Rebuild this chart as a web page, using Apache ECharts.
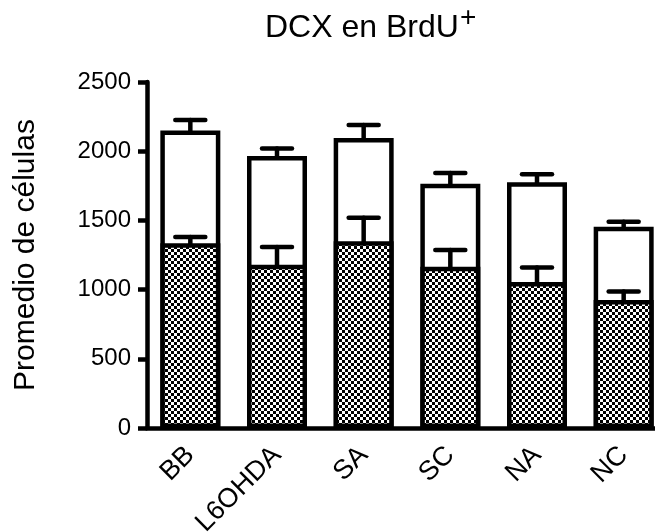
<!DOCTYPE html>
<html>
<head>
<meta charset="utf-8">
<script src="https://cdn.jsdelivr.net/npm/echarts@6/dist/echarts.min.js"></script>
<style>
html,body{margin:0;padding:0;background:#fff;}
#chart{width:655px;height:532px;}
</style>
</head>
<body>
<div id="chart"></div>
<script>
const categories = ['BB', 'L6OHDA', 'SA', 'SC', 'NA', 'NC'];
const totalValues = [2150, 1965, 2095, 1765, 1775, 1455];
const totalErrors = [75, 55, 95, 77, 58, 36];
const brduValues = [1335, 1180, 1350, 1165, 1055, 925];
const brduErrors = [45, 127, 170, 122, 105, 62];
const yTicks = [0, 500, 1000, 1500, 2000, 2500];

const FONT = 'Liberation Sans, Arial, Helvetica, sans-serif';

// checkerboard pattern
const pat = document.createElement('canvas');
pat.width = 6; pat.height = 6;
const pc = pat.getContext('2d');
pc.fillStyle = '#fff'; pc.fillRect(0, 0, 6, 6);
pc.fillStyle = '#000'; pc.fillRect(0, 0, 3, 3); pc.fillRect(3, 3, 3, 3);

function errData(vals, errs) {
  return vals.map((v, i) => [i, v, v + errs[i]]);
}

function renderErr(params, api) {
  const x = api.value(0);
  const p0 = api.coord([x, api.value(1)]);
  const p1 = api.coord([x, api.value(2)]);
  const hw = 15;
  const st = { stroke: '#000', lineWidth: 4.5, lineCap: 'round' };
  return {
    type: 'group',
    children: [
      { type: 'line', shape: { x1: p0[0], y1: p0[1], x2: p1[0], y2: p1[1] }, style: st },
      { type: 'line', shape: { x1: p1[0] - hw, y1: p1[1], x2: p1[0] + hw, y2: p1[1] }, style: st }
    ]
  };
}

const chart = echarts.init(document.getElementById('chart'));
chart.setOption({
  animation: false,
  backgroundColor: '#fff',
  grid: { left: 147, top: 82, bottom: 104, width: 520, containLabel: false, outerBoundsMode: 'none' },
  graphic: [
    { type: 'text', left: 265, top: 12, style: { text: 'DCX en BrdU', font: '32px ' + FONT, fill: '#000' } },
    { type: 'text', left: 460, top: 4, style: { text: '+', font: '28px ' + FONT, fill: '#000' } }
  ],
  xAxis: {
    type: 'category',
    data: categories,
    axisLine: { lineStyle: { color: '#000', width: 4.5 } },
    axisTick: { alignWithLabel: true, length: 9, lineStyle: { color: '#000', width: 4.5 } },
    axisLabel: { rotate: 45, fontSize: 27, fontFamily: FONT, color: '#000', margin: 23 }
  },
  yAxis: {
    type: 'value',
    min: yTicks[0],
    max: yTicks[yTicks.length - 1],
    interval: 500,
    name: 'Promedio de células',
    nameLocation: 'middle',
    nameRotate: 90,
    nameGap: 106,
    nameTextStyle: { fontSize: 30, fontFamily: FONT, color: '#000' },
    splitLine: { show: false },
    axisLine: { show: true, lineStyle: { color: '#000', width: 4.5 } },
    axisTick: { show: true, length: 9, lineStyle: { color: '#000', width: 4.5 } },
    axisLabel: { fontSize: 24, fontFamily: FONT, color: '#000', margin: 16, formatter: v => String(v) }
  },
  series: [
    {
      type: 'bar', name: 'DCX', data: totalValues, barWidth: 60,
      itemStyle: { color: '#fff', borderColor: '#000', borderWidth: 4.5 }, z: 2
    },
    {
      type: 'bar', name: 'BrdU', data: brduValues, barWidth: 60, barGap: '-100%',
      itemStyle: { color: { image: pat, repeat: 'repeat' }, borderColor: '#000', borderWidth: 4.5 }, z: 3
    },
    { type: 'custom', data: errData(totalValues, totalErrors), renderItem: renderErr, z: 4, encode: { x: 0, y: [1, 2] } },
    { type: 'custom', data: errData(brduValues, brduErrors), renderItem: renderErr, z: 4, encode: { x: 0, y: [1, 2] } }
  ]
});
</script>
</body>
</html>
